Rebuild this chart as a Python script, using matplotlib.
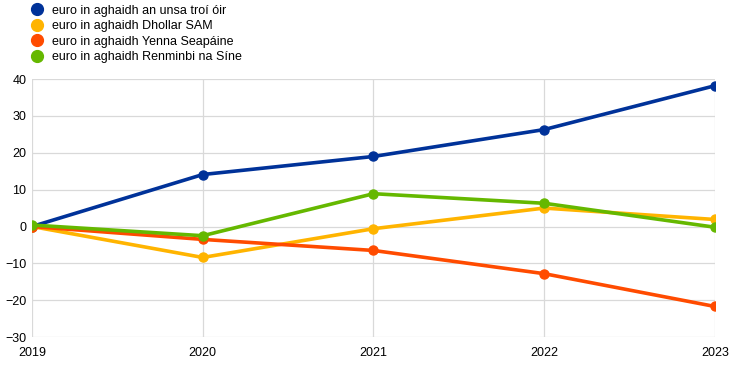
import matplotlib as mpl
import matplotlib.pyplot as plt
from matplotlib.lines import Line2D

mpl.rcParams['font.family'] = ['Liberation Sans', 'DejaVu Sans']

years = [2019, 2020, 2021, 2022, 2023]
gold = [0.0, 14.1, 19.0, 26.3, 38.2]
usd = [0.0, -8.4, -0.6, 5.0, 1.9]
jpy = [0.0, -3.5, -6.5, -12.8, -21.7]
cny = [0.4, -2.5, 8.9, 6.3, -0.2]

labels = ['euro in aghaidh an unsa troí óir',
          'euro in aghaidh Dhollar SAM',
          'euro in aghaidh Yenna Seapáine',
          'euro in aghaidh Renminbi na Síne']
colors = ['#003299', '#ffb400', '#ff4b00', '#65b800']
series = [gold, usd, jpy, cny]

fig = plt.figure(figsize=(7.44, 3.66), dpi=100)
ax = fig.add_axes([0.043, 0.079, 0.918, 0.705])

for vals, col in zip(series, colors):
    ax.plot(years, vals, color=col, lw=2.6, marker='o', ms=6.5,
            solid_capstyle='round', zorder=3)

ax.set_xlim(2019, 2023)
ax.set_ylim(-30, 40)
ax.set_xticks(years)
ax.set_yticks(range(-30, 41, 10))
ax.grid(True, color='#d9d9d9', lw=0.9)
ax.set_axisbelow(True)
for s in ax.spines.values():
    s.set_visible(False)
ax.tick_params(length=0, labelsize=9, pad=4)
ax.tick_params(axis='x', pad=7)
for lab in ax.get_xticklabels():
    lab.set_clip_on(False)

handles = [Line2D([], [], ls='none', marker='o', ms=8.5, color=c) for c in colors]
leg = fig.legend(handles, labels, loc='upper left', bbox_to_anchor=(0.030, 1.008),
                 frameon=False, fontsize=9, handletextpad=0.55,
                 labelspacing=0.28, handlelength=1.2, borderaxespad=0.2)

fig.savefig('out.png', dpi=100)
